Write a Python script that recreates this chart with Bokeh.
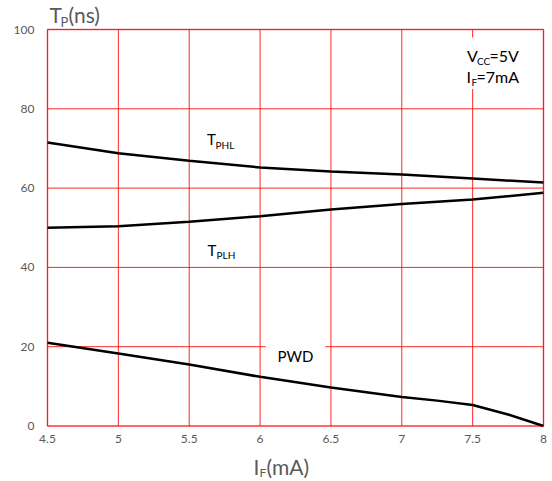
from bokeh.plotting import figure
from bokeh.models import Label, BoxAnnotation, Range1d
from bokeh.core.properties import value
from bokeh.embed import file_html
from bokeh.resources import INLINE

# ---- data ----
if_ma = [4.5, 5.0, 5.5, 6.0, 6.5, 7.0, 7.5, 8.0]
t_phl = [71.5, 68.8, 66.9, 65.2, 64.2, 63.4, 62.4, 61.4]
t_plh = [50.0, 50.4, 51.5, 52.9, 54.6, 56.0, 57.1, 58.8]
pwd_x = [4.5, 5.0, 5.5, 6.0, 6.5, 7.0, 7.25, 7.5, 7.75, 8.0]
pwd = [21.0, 18.3, 15.5, 12.4, 9.7, 7.3, 6.4, 5.3, 2.9, 0.0]

x_ticks = [4.5, 5.0, 5.5, 6.0, 6.5, 7.0, 7.5, 8.0]
x_tick_labels = ["4.5", "5", "5.5", "6", "6.5", "7", "7.5", "8"]
y_ticks = [0, 20, 40, 60, 80, 100]
y_tick_labels = ["0", "20", "40", "60", "80", "100"]

FONT = "Lato"
GRAY = "#595959"
RED = "#FF0000"

W, H = 550, 480
# plot box in canvas pixels
PL, PR, PT, PB = 47, 543, 29, 425.5
xmin, xmax = x_ticks[0], x_ticks[-1]
ymin, ymax = y_ticks[0], y_ticks[-1]
sx = (PR - PL) / (xmax - xmin)
sy = (PB - PT) / (ymax - ymin)

p = figure(width=W, height=H, output_backend="svg", toolbar_location=None,
           x_range=Range1d(xmin - PL / sx, xmax + (W - PR) / sx),
           y_range=Range1d(ymin - (H - PB) / sy, ymax + PT / sy),
           x_axis_location=None, y_axis_location=None,
           min_border=0)
p.outline_line_color = None
p.background_fill_color = "white"
p.border_fill_color = "white"
p.xgrid.visible = False
p.ygrid.visible = False

# grid lines (from tick arrays)
p.segment(x0=x_ticks, y0=[ymin] * len(x_ticks), x1=x_ticks, y1=[ymax] * len(x_ticks),
          line_color=RED, line_width=1, line_alpha=0.85)
p.segment(x0=[xmin] * len(y_ticks), y0=y_ticks, x1=[xmax] * len(y_ticks), y1=y_ticks,
          line_color=RED, line_width=1, line_alpha=0.85)

# tick labels
p.text(x=x_ticks, y=[ymin] * len(x_ticks), text=x_tick_labels, y_offset=9,
       text_align="center", text_baseline="top", text_font=value(FONT),
       text_font_size="12px", text_color=GRAY)
p.text(x=[xmin] * len(y_ticks), y=y_ticks, text=y_tick_labels, x_offset=-13,
       text_align="right", text_baseline="middle", text_font=value(FONT),
       text_font_size="12px", text_color=GRAY)

# curves
p.line(if_ma, t_phl, line_color="black", line_width=2.5)
p.line(if_ma, t_plh, line_color="black", line_width=2.5)
p.line(pwd_x, pwd, line_color="black", line_width=2.5)

# white backgrounds behind in-plot text boxes
p.add_layout(BoxAnnotation(left=7.38, right=7.93, bottom=85.0, top=98.0,
                           fill_color="white", fill_alpha=1.0, line_color=None))
p.add_layout(BoxAnnotation(left=6.04, right=6.46, bottom=14.9, top=20.7,
                           fill_color="white", fill_alpha=1.0, line_color=None))

# plot box outline
p.add_layout(BoxAnnotation(left=xmin, right=xmax, bottom=ymin, top=ymax,
                           fill_color=None, line_color=RED, line_width=2))


def txt(s, px, py, size, color="black"):
    # py is the visual baseline; anchor at the middle of the caps
    p.add_layout(Label(x=px, y=H - (py - 0.37 * size), x_units="screen",
                       y_units="screen", text=s, text_font=FONT,
                       text_font_size=f"{size}px", text_color=color,
                       text_align="left", text_baseline="middle"))


# title T_P(ns)
txt("T", 49, 22, 21, GRAY)
txt("P", 60, 26, 13, GRAY)
txt("(ns)", 68, 22, 21, GRAY)

# x axis label I_F(mA)
txt("I", 253, 474, 21, GRAY)
txt("F", 259, 476.5, 12, GRAY)
txt("(mA)", 266, 474, 21, GRAY)

# conditions
txt("V", 466.5, 61, 16)
txt("CC", 476.5, 64.5, 10)
txt("=5V", 489, 61, 16)
txt("I", 466, 82, 16)
txt("F", 471, 85.5, 10)
txt("=7mA", 476, 82, 16)

# curve labels
txt("T", 206.5, 144, 15)
txt("PHL", 215, 148, 10)
txt("T", 207, 255, 15)
txt("PLH", 216, 258.5, 10)
txt("PWD", 277, 361, 15)

open("out.html", "w").write(file_html(p, INLINE))
